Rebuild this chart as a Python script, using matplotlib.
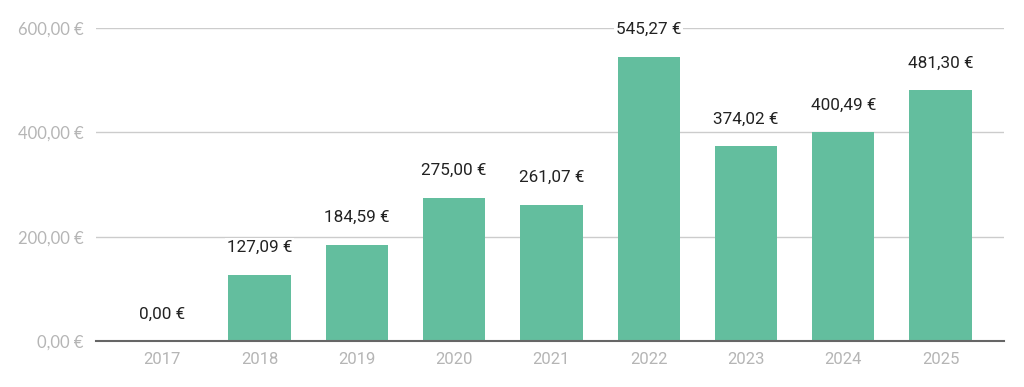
import matplotlib.pyplot as plt

years = ["2017", "2018", "2019", "2020", "2021", "2022", "2023", "2024", "2025"]
amounts = [0.00, 127.09, 184.59, 275.00, 261.07, 545.27, 374.02, 400.49, 481.30]
yticks = [0, 200, 400, 600]


def euro(v):
    return f"{v:,.2f} €".replace(",", "X").replace(".", ",").replace("X", ".")


fig = plt.figure(figsize=(10.24, 3.87), dpi=100)
ax = fig.add_axes([0.09375, 0.1189, 0.8866, 0.8088])

x = list(range(len(years)))
bars = ax.bar(x, amounts, width=0.64, color="#63be9e", zorder=3)

for xi, v in zip(x, amounts):
    ax.annotate(euro(v), (xi, v), xytext=(0, 27), textcoords="offset pixels",
                ha="center", va="center", fontsize=12.3, family="Roboto", color="#222222",
                bbox=dict(boxstyle="square,pad=0.1", fc="white", ec="none"), zorder=4,
                annotation_clip=False)

ax.set_xlim(-0.68, 8.65)
ax.set_ylim(0, 600)
ax.set_yticks(yticks)
ax.set_yticklabels([euro(t) for t in yticks], family="Lato", fontsize=12, color="#b5b5b5")
ax.set_xticks(x)
ax.set_xticklabels(years, family="Roboto", fontsize=12, color="#b5b5b5")
ax.tick_params(axis="y", length=0, pad=9)
ax.tick_params(axis="x", length=0, pad=8)
ax.grid(axis="y", color="#cccccc", linewidth=1, zorder=0)
for s in ["top", "right", "left"]:
    ax.spines[s].set_visible(False)
ax.spines["bottom"].set_color("#666666")
ax.spines["bottom"].set_linewidth(1.5)
ax.spines["bottom"].set_zorder(5)

fig.savefig("out.png", dpi=100)
